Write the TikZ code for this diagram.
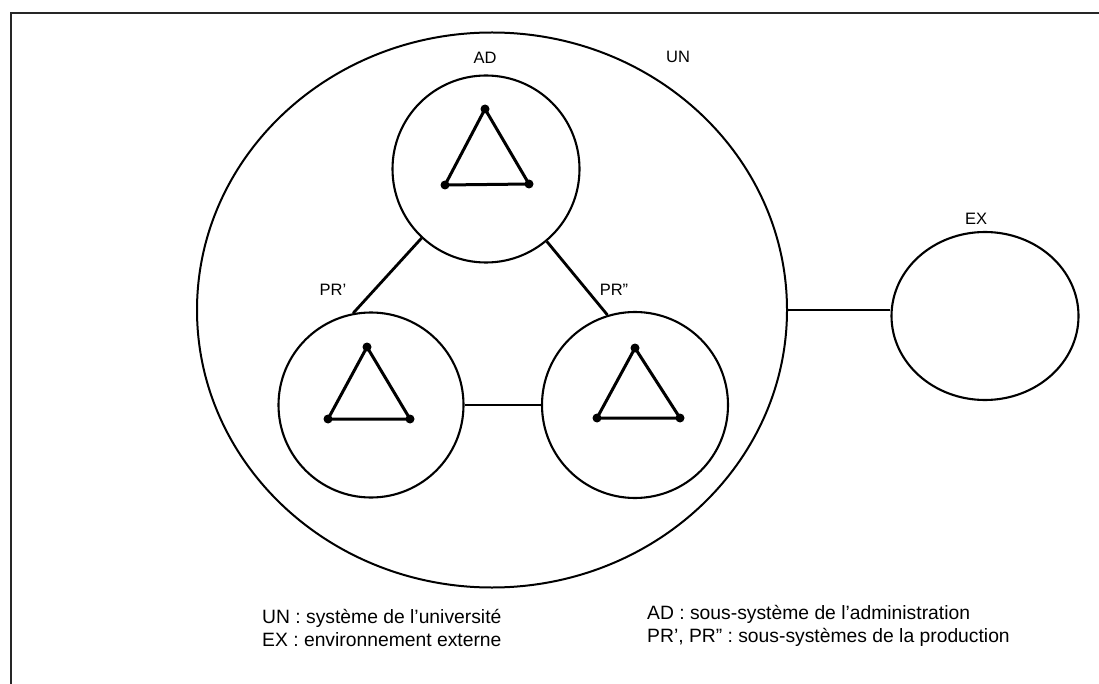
\documentclass[tikz,border=0pt]{standalone}
\usepackage{fontspec}
\setmainfont{Liberation Sans}
\usetikzlibrary{shapes.geometric}
\begin{document}
\begin{tikzpicture}[x=1pt,y=-1pt,
  sys/.style={draw, circle, line width=2.1pt, inner sep=0pt},
  tri/.style={line width=3pt, line join=round},
  link/.style={line width=2.8pt},
  thinlink/.style={line width=2pt},
  lbl/.style={font=\fontsize{16.5}{18}\selectfont, inner sep=0pt},
  legend/.style={font=\fontsize{19.3}{22}\selectfont, anchor=west, inner sep=0pt},
  frame/.style={line width=2.8pt, draw=black!85}]
  \useasboundingbox (0,0) rectangle (1099,684);
  % page frame (top and left edges)
  \draw[frame] (11,684) -- (11,13) -- (1099,13);

  % university system and its subsystems
  \node[draw, ellipse, line width=2pt, inner sep=0pt,
        minimum width=590, minimum height=555] (UN) at (492,310) {};
  \node[sys, minimum size=187] (AD) at (486,169) {};
  \node[sys, minimum size=185] (PR1) at (371,405) {};
  \node[sys, minimum size=186] (PR2) at (635,405) {};
  % external environment
  \node[draw, ellipse, line width=2.1pt, inner sep=0pt,
        minimum width=187, minimum height=168] (EX) at (985,316) {};

  % inner triangles with dotted corners
  \foreach \c/\ax/\ay/\lx/\ly/\rx/\ry in {AD/-1/-60/-41/16/43/15,
                                          PR1/-4/-58/-43/14/39/14,
                                          PR2/0/-57/-38/13/45/13}{
    \begin{scope}[shift={(\c.center)}]
      \draw[tri] (\ax,\ay) -- (\lx,\ly) -- (\rx,\ry) -- cycle;
      \foreach \px/\py in {\ax/\ay,\lx/\ly,\rx/\ry}
        \fill (\px,\py) circle (4.5);
    \end{scope}
  }

  % connectors
  \draw[link] (AD.227) -- (PR1.101);
  \draw[link] (AD.310) -- (PR2.107);
  \draw[thinlink] (PR1.east) -- (PR2.west);
  \draw[thinlink] (UN.east) -- (EX.west |- UN.east);

  % labels
  \node[lbl] (lAD) at (485,58) {AD};
  \node[lbl] (lUN) at (678,57) {UN};
  \node[lbl] (lPR1) at (333,290) {PR'};
  \node[lbl] (lPR2) at (614,290) {PR''};
  \node[lbl] (lEX) at (976,219) {EX};

  % legend
  \node[legend] (k1) at (262,618) {UN : système de l'université};
  \node[legend] (k2) at (262,640) {EX : environnement externe};
  \node[legend] (k3) at (647,614) {AD : sous-système de l'administration};
  \node[legend] (k4) at (647,637) {PR', PR'' : sous-systèmes de la production};
\end{tikzpicture}
\end{document}
